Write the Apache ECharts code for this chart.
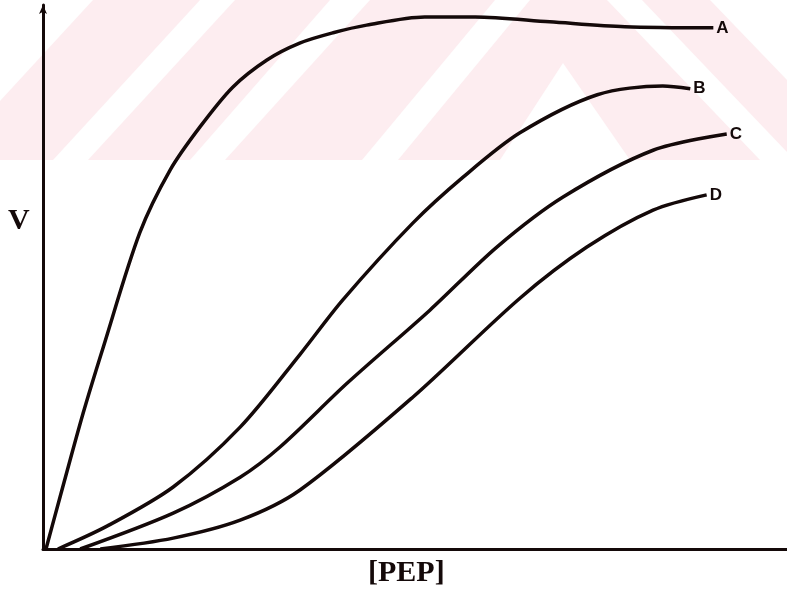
<!DOCTYPE html>
<html>
<head>
<meta charset="utf-8">
<script src="https://cdn.jsdelivr.net/npm/echarts@6/dist/echarts.min.js"></script>
<style>
  html, body { margin: 0; padding: 0; background: #ffffff; }
  #chart { width: 787px; height: 594px; }
</style>
</head>
<body>
<div id="chart"></div>
<script>
// [PEP] (x, relative units 0-100) and V (y, relative units 0-100)
const seriesNames = ['A', 'B', 'C', 'D'];
const pepA = [0.4, 2.3, 5.4, 8.1, 13.0, 17.1, 21.1, 25.5, 30.1, 34.5, 39.0, 43.5, 51.3, 58.1, 68.1, 78.2, 90.1];
const vA   = [0, 9.6, 25.0, 37.1, 58.1, 69.7, 77.6, 84.9, 89.9, 93.0, 94.9, 96.3, 97.8, 97.8, 96.9, 96.0, 95.8];
const pepB = [2.0, 8.6, 17.5, 26.5, 34.5, 40.3, 49.7, 56.5, 64.1, 74.5, 83.3, 87.0];
const vB   = [0, 4.2, 11.4, 22.4, 35.7, 45.8, 59.9, 68.4, 76.5, 83.5, 85.1, 84.6];
const pepC = [5.0, 17.5, 26.5, 31.9, 40.9, 52.0, 61.0, 69.9, 82.0, 91.9];
const vC   = [0, 6.6, 13.2, 18.8, 30.5, 43.9, 55.5, 64.7, 73.3, 76.3];
const pepD = [7.7, 17.5, 26.5, 34.5, 49.7, 64.1, 73.1, 82.0, 89.2];
const vD   = [0, 2.0, 5.3, 10.8, 27.9, 46.1, 55.5, 62.3, 65.1];
const xName = '[PEP]';
const yName = 'V';

const pairs = (xs, ys) => xs.map((x, i) => [x, ys[i]]);
const allData = [pairs(pepA, vA), pairs(pepB, vB), pairs(pepC, vC), pairs(pepD, vD)];

const ink = '#140909';
const pink = '#fdedf0';

const chart = echarts.init(document.getElementById('chart'), null, { renderer: 'canvas' });

const wm = (pts) => ({ type: 'polygon', z: -10, silent: true, shape: { points: pts }, style: { fill: '#ffffff' } });

chart.setOption({
  animation: false,
  backgroundColor: '#ffffff',
  grid: { left: 43, right: 0, top: 5, bottom: 45, containLabel: false },
  xAxis: {
    type: 'value', min: 0, max: 100,
    axisLine: { show: true, onZero: false, lineStyle: { color: ink, width: 3 } },
    axisTick: { show: false }, axisLabel: { show: false }, splitLine: { show: false }
  },
  yAxis: {
    type: 'value', min: 0, max: 100,
    axisLine: { show: true, onZero: false, symbol: ['none', 'arrow'], symbolSize: [6, 9], lineStyle: { color: ink, width: 3 } },
    axisTick: { show: false }, axisLabel: { show: false }, splitLine: { show: false }
  },
  graphic: [
    { type: 'rect', z: -11, silent: true, shape: { x: 0, y: 0, width: 787, height: 160 }, style: { fill: pink } },
    wm([[0, 0], [93, 0], [0, 101]]),
    wm([[200, 0], [235, 0], [88, 160], [53, 160]]),
    wm([[330, 0], [370, 0], [225, 160], [190, 160]]),
    wm([[495, 0], [530, 0], [398, 160], [362, 160]]),
    wm([[563, 63], [500, 160], [630, 160]]),
    wm([[607, 0], [642, 0], [787, 152], [787, 160], [760, 160]]),
    wm([[710, 0], [787, 0], [787, 80]]),
    { type: 'text', z: 10, left: 8, top: 206, style: { text: yName, fill: ink, font: 'bold 30px "Liberation Serif", "Times New Roman", serif' } },
    { type: 'text', z: 10, left: 368, top: 558, style: { text: xName, fill: ink, font: 'bold 30px "Liberation Serif", "Times New Roman", serif' } }
  ],
  series: seriesNames.map((name, i) => ({
    name: name,
    type: 'line',
    data: allData[i],
    smooth: 0.3,
    showSymbol: false,
    z: 3,
    lineStyle: { color: ink, width: 3.5 },
    endLabel: {
      show: true,
      formatter: '{a}',
      distance: 3,
      color: ink,
      fontFamily: '"Liberation Sans", Arial, sans-serif',
      fontWeight: 'bold',
      fontSize: 17
    }
  }))
});
</script>
</body>
</html>
